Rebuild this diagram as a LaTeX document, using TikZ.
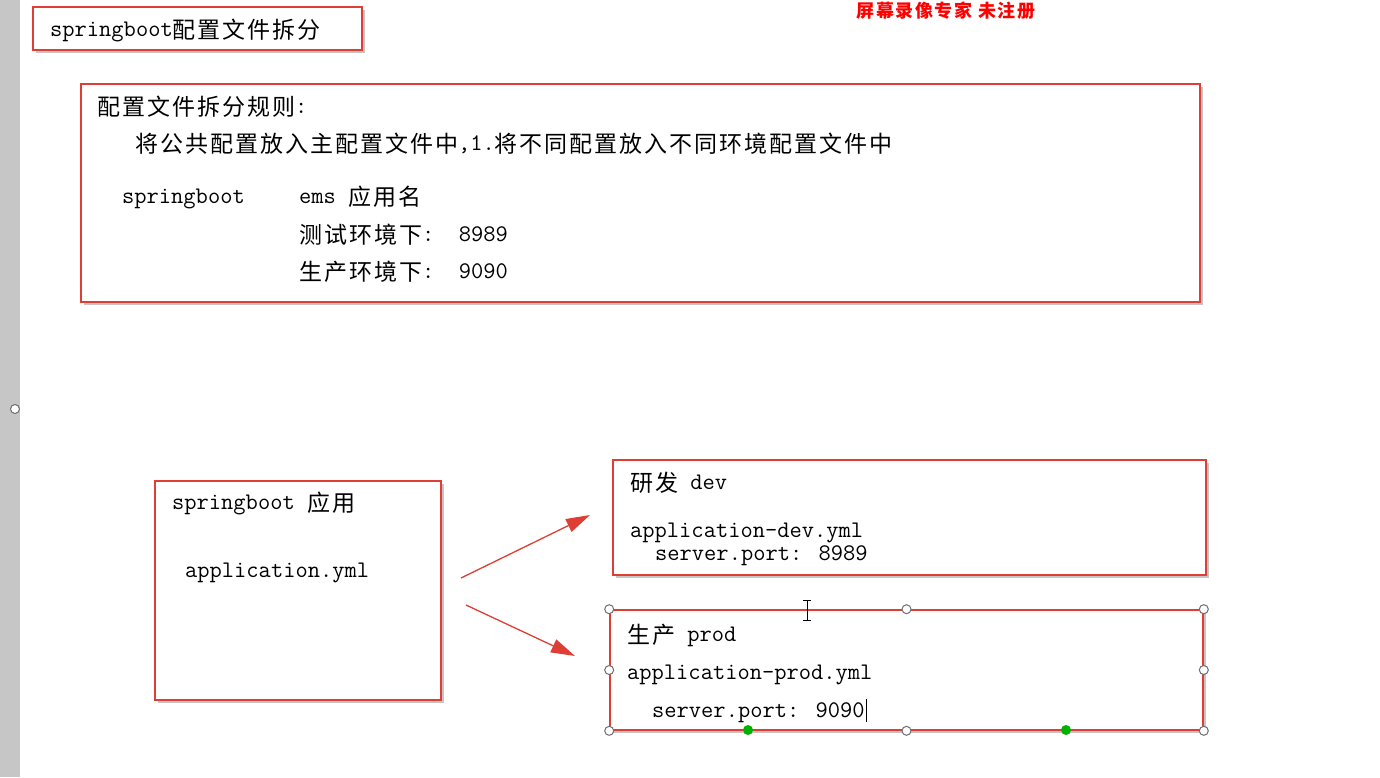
\documentclass[tikz,border=0pt]{standalone}
\usepackage{fontspec}
\newfontfamily\cjkfont[LetterSpace=8.7]{Noto Sans CJK SC}
\usetikzlibrary{arrows.meta,shadows}
\definecolor{boxred}{RGB}{222,62,52}
\definecolor{handlegray}{RGB}{110,110,110}
\definecolor{stripgray}{RGB}{198,198,198}
\newcommand{\zh}[1]{\raisebox{-2pt}{\cjkfont\fontsize{23}{26}\selectfont #1}}
\tikzset{
    box/.style={draw=boxred, line width=1.6pt, fill=white, inner sep=0,
        drop shadow={shadow xshift=3pt, shadow yshift=-3pt, opacity=0.45}},
    txt/.style={anchor=west, inner sep=0, text height=19pt, text depth=4pt},
    arrow/.style={boxred, line width=1.3pt, -{Triangle[length=24pt, width=14pt]}},
    handle/.style={circle, draw=handlegray, fill=white, line width=1pt, inner sep=0, minimum size=9pt},
    grip/.style={circle, fill=green!70!black, inner sep=0, minimum size=10pt},
}
\begin{document}
\begin{tikzpicture}[x=1pt, y=-1pt, font=\ttfamily\fontsize{23.8}{26}\selectfont]
    \useasboundingbox (0, 0) rectangle (1380, 777);
    \fill[white] (0, 0) rectangle (1380, 777);
    \fill[stripgray] (0, 0) rectangle (20, 777);
    \node[handle] (stripknob) at (15, 409) {};

    % watermark
    \node[inner sep=0, text=red] (mark) at (946, 11)
        {\cjkfont\bfseries\fontsize{18}{18}\selectfont 屏幕录像专家 未注册};

    % boxes
    \node[box, minimum width=329, minimum height=43] (head) at (197.5, 28.5) {};
    \node[box, minimum width=1119, minimum height=218] (rules) at (640.5, 193) {};
    \node[box, minimum width=286, minimum height=219] (main) at (298, 590.5) {};
    \node[box, minimum width=593, minimum height=115] (dev) at (909.5, 517.5) {};
    \node[box, minimum width=593, minimum height=120] (prod) at (906.5, 670) {};

    % texts
    \node[txt] (title) at (50, 29) {springboot\zh{配置文件拆分}};
    \node[txt] (rulehead) at (97, 106) {\zh{配置文件拆分规则}:};
    \node[txt] (ruleline) at (135, 143)
        {\zh{将公共配置放入主配置文件中},1.\zh{将不同配置放入不同环境配置文件中}};
    \node[txt] (sb) at (122, 196) {springboot};
    \node[txt] (ems) at (299, 196) {ems \zh{应用名}};
    \node[txt] (testenv) at (299, 234) {\zh{测试环境下}:~~8989};
    \node[txt] (prodenv) at (299, 271) {\zh{生产环境下}:~~9090};
    \node[txt] (app) at (172, 502) {springboot \zh{应用}};
    \node[txt] (appyml) at (185, 570) {application.yml};
    \node[txt] (devname) at (630, 482) {\zh{研发} dev};
    \node[txt] (devyml) at (630, 530) {application-dev.yml};
    \node[txt] (devport) at (655, 553) {server.port: 8989};
    \node[txt] (prodname) at (627, 634) {\zh{生产} prod};
    \node[txt] (prodyml) at (627, 672) {application-prod.yml};
    \node[txt] (prodport) at (652, 710) {server.port: 9090};

    % arrows
    \coordinate (devout) at (461, 578);
    \coordinate (devin) at (590, 515);
    \coordinate (prodout) at (466, 605);
    \coordinate (prodin) at (575, 656);
    \draw[arrow] (devout) -- (devin);
    \draw[arrow] (prodout) -- (prodin);

    % selection of the prod box
    \foreach \a in {north west, north, north east, west, east, south west, south, south east}
        \node[handle] (h-\a) at (prod.\a) {};
    \node[grip] (gripa) at (748, 730) {};
    \node[grip] (gripb) at (1066, 730) {};
    \draw[line width=1pt] (866.5, 699) -- (866.5, 722);
    \draw[line width=1pt] (807, 601) -- (807, 620);
    \draw[line width=1pt] (803, 600.5) -- (811, 600.5) (803, 620.5) -- (811, 620.5);
\end{tikzpicture}
\end{document}
